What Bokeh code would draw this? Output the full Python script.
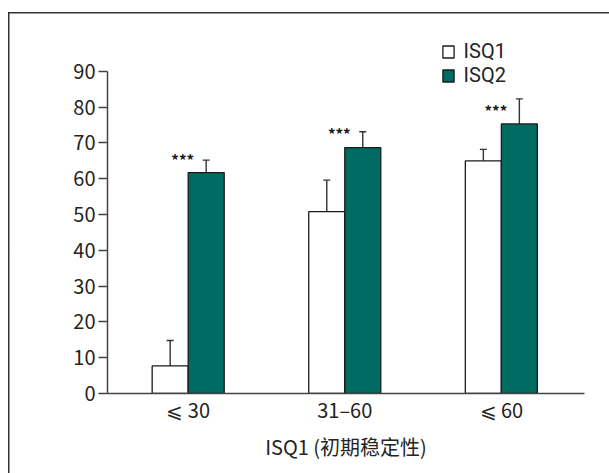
import math
from bokeh.plotting import figure
from bokeh.models import (Range1d, FixedTicker, Whisker, TeeHead, ColumnDataSource,
                          Legend, LegendItem, Label)
from bokeh.core.properties import value
from bokeh.embed import file_html
from bokeh.resources import INLINE

# ---------------- data ----------------
categories = ["⩽ 30", "31–60", "⩽ 60"]
series_names = ["ISQ1", "ISQ2"]
isq1_mean = [7.7, 50.8, 65.0]
isq1_sd = [7.1, 8.8, 3.2]
isq2_mean = [61.7, 68.7, 75.3]
isq2_sd = [3.5, 4.4, 7.0]
significance = ["***", "***", "***"]
y_ticks = [0, 10, 20, 30, 40, 50, 60, 70, 80, 90]
x_title = "ISQ1 (初期稳定性)"
y_title = "ISQ 值"

FONT = "Noto Sans CJK SC"
LEGEND_FONT = "Roboto"
TEXT = "#242424"
TEAL = "#006b63"
EDGE = "#1a1a1a"

pos = [1, 2, 3]
bw = 0.23

p = figure(width=609, height=473, output_backend="svg", toolbar_location=None,
           x_range=Range1d(0.4847, 3.531), y_range=Range1d(0, 100),
           min_border_left=107, min_border_right=25, min_border_top=35,
           min_border_bottom=80)
# outer panel frame: only its left and top edges fall inside the picture
p.styles = {
    "background-color": "white",
    "background-image": "linear-gradient(#333, #333), linear-gradient(#333, #333)",
    "background-size": "1.5px 100%, 100% 1.5px",
    "background-position": "8px 12px, 8px 12px",
    "background-repeat": "no-repeat",
}
p.outline_line_color = None
p.grid.visible = False
p.background_fill_color = "white"
p.border_fill_alpha = 0

src1 = ColumnDataSource(dict(x=[c - bw / 2 for c in pos], top=isq1_mean,
                             upper=[m + s for m, s in zip(isq1_mean, isq1_sd)]))
src2 = ColumnDataSource(dict(x=[c + bw / 2 for c in pos], top=isq2_mean,
                             upper=[m + s for m, s in zip(isq2_mean, isq2_sd)]))

r1 = p.vbar(x="x", top="top", bottom=0, width=bw, source=src1,
            fill_color="white", line_color=EDGE, line_width=1.3)
r2 = p.vbar(x="x", top="top", bottom=0, width=bw, source=src2,
            fill_color=TEAL, line_color=EDGE, line_width=1.3)

for s in (src1, src2):
    w = Whisker(base="x", lower="top", upper="upper", source=s, dimension="height",
                line_color="#333", line_width=1.4, lower_head=None,
                upper_head=TeeHead(size=7, line_color="#333", line_width=1.4))
    p.add_layout(w)

p.text(x=[c - 0.035 for c in pos], y=[m + 3.8 for m in isq2_mean], text=significance,
       text_font=value(FONT), text_font_size="15px", text_font_style="bold",
       text_align="center", text_baseline="middle", text_color="#1a1a1a")

# axes
for ax in (p.xaxis[0], p.yaxis[0]):
    ax.axis_line_color = "#444"
    ax.axis_line_width = 1.5
    ax.major_tick_line_color = "#444"
    ax.major_tick_line_width = 1.3
    ax.minor_tick_line_color = None
    ax.major_label_text_font = FONT
    ax.major_label_text_font_size = "20px"
    ax.major_label_text_color = TEXT

p.yaxis.ticker = FixedTicker(ticks=y_ticks)
p.yaxis.bounds = (0, 90)
p.yaxis.major_tick_out = 9
p.yaxis.major_tick_in = 0
p.yaxis.major_label_standoff = 3

p.xaxis.ticker = FixedTicker(ticks=pos)
p.xaxis.major_label_overrides = {c: lab for c, lab in zip(pos, categories)}
p.xaxis.major_tick_out = 0
p.xaxis.major_tick_in = 0
p.xaxis.major_label_standoff = 1
p.xaxis.axis_label = x_title
p.xaxis.axis_label_text_font = FONT
p.xaxis.axis_label_text_font_size = "20px"
p.xaxis.axis_label_text_font_style = "normal"
p.xaxis.axis_label_text_color = TEXT
p.xaxis.axis_label_standoff = 5

p.add_layout(Label(x=-67, y=116, x_units="screen", y_units="screen", text=y_title,
                   angle=math.pi / 2, text_align="center", text_baseline="middle",
                   text_font=FONT, text_font_size="20px", text_color=TEXT))

for r, name, yloc in ((r1, series_names[0], 330), (r2, series_names[1], 306)):
    lg = Legend(items=[LegendItem(label=name, renderers=[r])], location=(333.6, yloc),
                glyph_width=14, glyph_height=15, label_standoff=9, padding=0, margin=0,
                spacing=0, label_height=15, border_line_color=None, background_fill_alpha=0,
                label_text_font=LEGEND_FONT, label_text_font_size="20px",
                label_text_color=TEXT)
    p.add_layout(lg)

open("out.html", "w").write(file_html(p, INLINE))
